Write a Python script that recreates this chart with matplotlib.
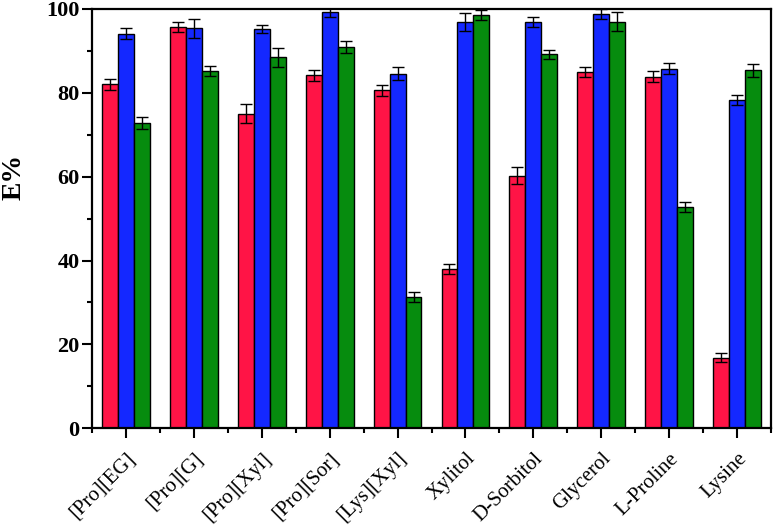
import matplotlib
matplotlib.use("Agg")
import matplotlib.pyplot as plt
import matplotlib.transforms as mtransforms
import numpy as np
from matplotlib.ticker import MultipleLocator, FixedLocator

categories = ["[Pro][EG]", "[Pro][G]", "[Pro][Xyl]", "[Pro][Sor]", "[Lys][Xyl]",
              "Xylitol", "D-Sorbitol", "Glycerol", "L-Proline", "Lysine"]
red_vals = [82.0, 95.6, 75.0, 84.2, 80.6, 37.9, 60.2, 84.9, 83.8, 16.8]
red_err = [1.3, 1.2, 2.3, 1.35, 1.35, 1.2, 2.0, 1.2, 1.3, 1.1]
blue_vals = [94.1, 95.4, 95.2, 99.2, 84.5, 96.9, 96.9, 98.8, 85.7, 78.2]
blue_err = [1.3, 2.3, 1.0, 1.0, 1.55, 2.15, 1.2, 1.3, 1.3, 1.2]
green_vals = [72.8, 85.2, 88.5, 91.0, 31.3, 98.6, 89.2, 97.0, 52.8, 85.4]
green_err = [1.5, 1.2, 2.3, 1.4, 1.3, 1.2, 1.1, 2.2, 1.2, 1.55]
yticks = [0, 20, 40, 60, 80, 100]

plt.rcParams['font.family'] = ['Liberation Serif', 'DejaVu Serif']

fig = plt.figure(figsize=(7.74, 5.28), dpi=100)
ax = fig.add_axes([0.119, 0.189, 0.877, 0.794])

x = np.arange(len(categories))
w = 0.235
series = [(red_vals, red_err, '#FF1446'), (blue_vals, blue_err, '#1428FF'),
          (green_vals, green_err, '#068C0E')]
for i, (v, e, c) in enumerate(series):
    ax.bar(x + (i - 1) * w, v, width=w, color=c, edgecolor='black', linewidth=1.0,
           yerr=e, capsize=4, error_kw=dict(ecolor='black', elinewidth=1.0, capthick=1.0),
           zorder=2)

ax.set_xlim(-0.5, len(categories) - 0.5)
ax.set_ylim(0, 100)
ax.set_xticks(x)
ax.set_xticklabels(categories, rotation=45, ha='right', rotation_mode='anchor', fontsize=15)
offset = mtransforms.ScaledTranslation(-4 / 100, 0, fig.dpi_scale_trans)
for lab in ax.get_xticklabels():
    lab.set_transform(lab.get_transform() + offset)
ax.xaxis.set_minor_locator(FixedLocator(np.arange(-0.5, len(categories), 1.0)))
ax.set_yticks(yticks)
ax.set_yticklabels([str(t) for t in yticks], fontsize=16, fontweight='bold')
ax.yaxis.set_minor_locator(MultipleLocator(10))
ax.tick_params(axis='both', which='major', direction='out', length=7, width=1.5, top=False, right=False)
ax.tick_params(axis='both', which='minor', direction='out', length=3.6, width=1.5, top=False, right=False)
ax.tick_params(axis='x', which='major', pad=8)
ax.tick_params(axis='y', which='major', pad=2)
for s in ax.spines.values():
    s.set_linewidth(1.6)

ax.set_ylabel('E%', fontsize=20, fontweight='bold')
ax.yaxis.set_label_coords(-0.096, 0.60)

fig.savefig('out.png', dpi=100)
